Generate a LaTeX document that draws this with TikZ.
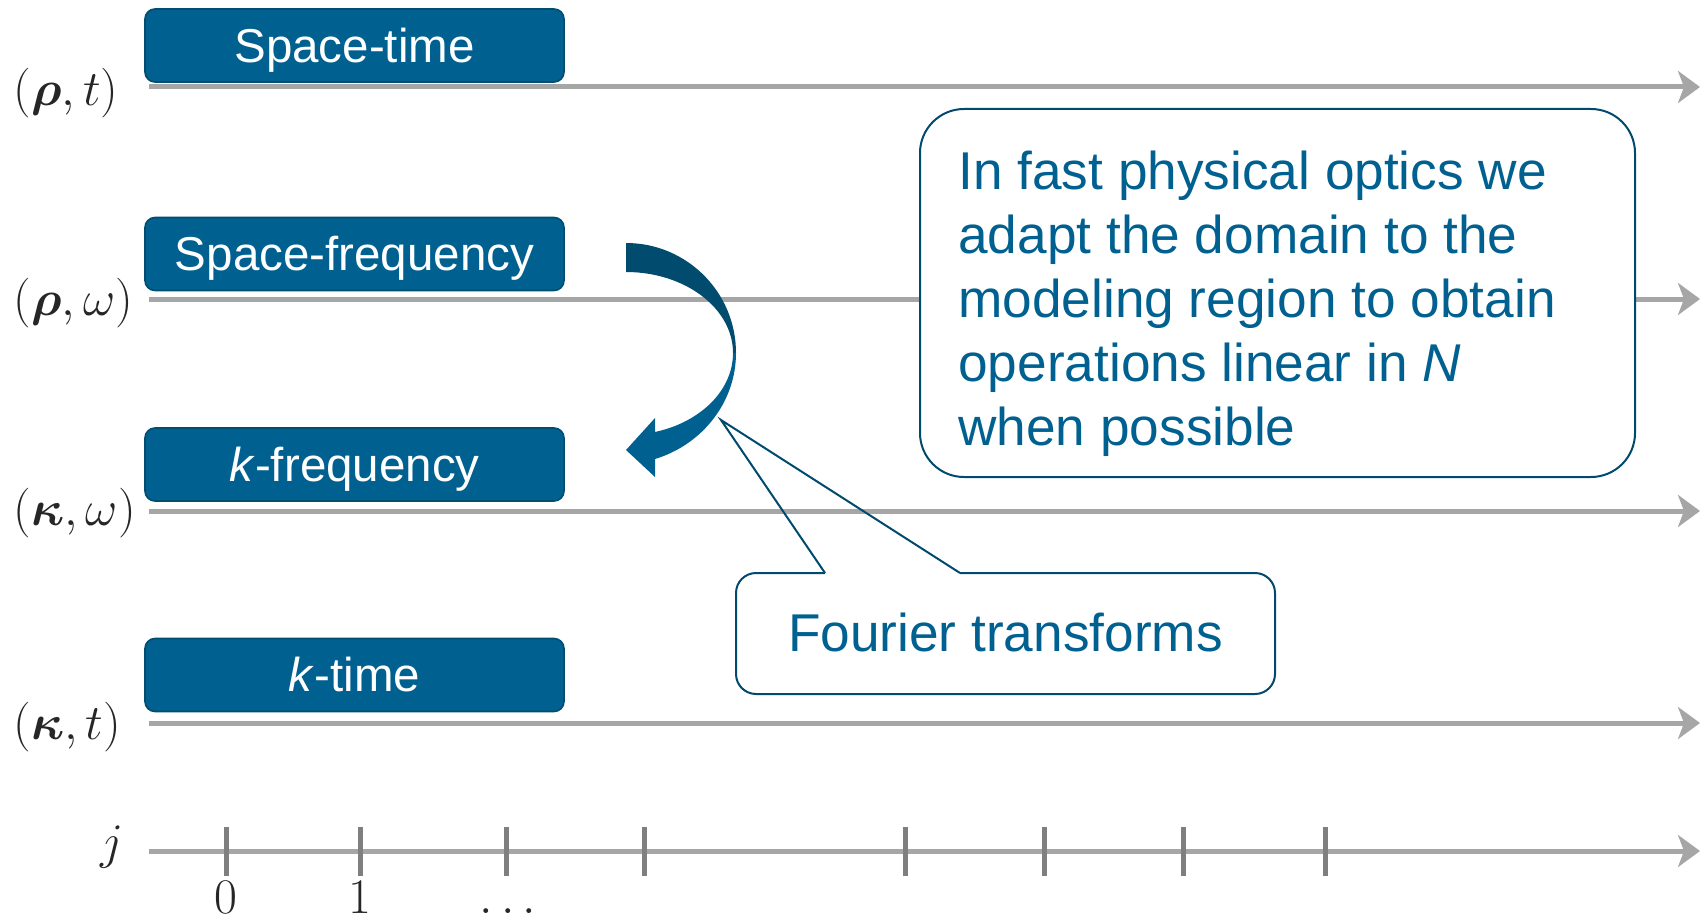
\documentclass[tikz,border=0pt]{standalone}
\usepackage{amsmath}
\usepackage{fontspec}
\setmainfont{Liberation Sans}
\usetikzlibrary{arrows.meta}
\definecolor{boxblue}{HTML}{006191}
\definecolor{boxedge}{HTML}{004D70}
\definecolor{calltext}{HTML}{006191}
\definecolor{calledge}{HTML}{004A6E}
\definecolor{arrowdark}{HTML}{004B6E}
\definecolor{axisgray}{HTML}{A6A6A6}
\definecolor{tickgray}{HTML}{7F7F7F}
\tikzset{
  axisline/.style={draw=axisgray, line width=2.5pt, -{Stealth[length=11pt,width=16pt,inset=3pt]}},
  domainbox/.style={fill=boxblue, draw=boxedge, line width=0.8pt, rounded corners=5pt,
    minimum width=209.5pt, minimum height=36.5pt, inner sep=0pt, text=white,
    text height=21.6pt, text depth=5pt,
    font=\fontsize{23.75}{28}\selectfont},
  mathlabel/.style={anchor=west, inner sep=0pt, text=black!85, font=\fontsize{25.5}{30}\selectfont},
  ticklabel/.style={inner sep=0pt, text=black!85, font=\fontsize{24}{28}\selectfont},
  tickmark/.style={draw=tickgray, line width=2.5pt},
  callout/.style={draw=calledge, line width=1pt},
  calloutfont/.style={text=calltext, font=\fontsize{26.6}{31.9}\selectfont}
}
\begin{document}
\begin{tikzpicture}[x=0.5pt,y=-0.5pt]
\useasboundingbox (0,0) rectangle (1707,920);

% axis line end points
\coordinate (l1s) at (149,87);  \coordinate (l1e) at (1700,87);
\coordinate (l2s) at (149,299); \coordinate (l2e) at (1700,299);
\coordinate (l3s) at (149,511); \coordinate (l3e) at (1700,511);
\coordinate (l4s) at (149,723); \coordinate (l4e) at (1700,723);
\coordinate (l5s) at (149,851); \coordinate (l5e) at (1700,851);
\draw[axisline] (l1s) -- (l1e);
\draw[axisline] (l2s) -- (l2e);
\draw[axisline] (l3s) -- (l3e);
\draw[axisline] (l4s) -- (l4e);
\draw[axisline] (l5s) -- (l5e);

% ticks
\foreach \x/\n in {226/t0,360/t1,506/t2,644/t3,905/t4,1044/t5,1183/t6,1325/t7}{
  \coordinate (\n a) at (\x,827);
  \coordinate (\n b) at (\x,876);
  \draw[tickmark] (\n a) -- (\n b);
}
\node[ticklabel, anchor=base] (lab0) at (226,913) {$0$};
\node[ticklabel, anchor=base] (lab1) at (360,913) {$1$};
\node[ticklabel, anchor=base] (labd) at (512,913) {$\dots$};

% left labels
\node[mathlabel] (rt) at (13,93) {$(\boldsymbol{\rho},t)$};
\node[mathlabel] (rw) at (13,303) {$(\boldsymbol{\rho},\omega)$};
\node[mathlabel] (kw) at (13,513) {$(\boldsymbol{\kappa},\omega)$};
\node[mathlabel] (kt) at (13,727) {$(\boldsymbol{\kappa},t)$};
\node[mathlabel, anchor=center] (jlab) at (112,847) {$j$};

% domain boxes
\node[domainbox] (st) at (354.5,45.5) {Space-time};
\node[domainbox] (sf) at (354.5,254) {Space-frequency};
\node[domainbox] (kf) at (354.5,464.5) {\textit{k}-frequency};
\node[domainbox] (ktm) at (354.5,675) {\textit{k}-time};

% big callout
\node[callout, fill=white, rounded corners=22pt, minimum width=357.5pt, minimum height=184pt, inner sep=0pt]
  (big) at (1277.5,293) {};
\node[calloutfont, anchor=north west, align=left, inner sep=0pt] (bigtext) at (958,151)
  {In fast physical optics we\\adapt the domain to the\\modeling region to obtain\\operations linear in \textit{N}\\when possible};

% curved arrow
\fill[arrowdark] (626,243) .. controls (686.8,243) and (736,292.2) .. (736,353)
  -- (733,353) .. controls (733,308.3) and (685.1,272) .. (626,272) -- cycle;
\fill[boxblue] (736,353) .. controls (736,401.7) and (702.8,444.4) .. (655,459)
  -- (655,477) -- (626,450) -- (655,418) -- (655,432)
  .. controls (701.2,422) and (733,389.8) .. (733,353) -- cycle;

% Fourier callout
\coordinate (pa) at (825,573);
\coordinate (apex) at (721,420);
\coordinate (pb) at (960,573);
\fill[white, rounded corners=10pt] (736,573) rectangle (1275,694);
\draw[callout, rounded corners=10pt] (pb) -- (1275,573) -- (1275,694) -- (736,694) -- (736,573) -- (pa);
\draw[callout] (pa) -- (apex) -- (pb);
\node[calloutfont, inner sep=0pt] (ft) at (1005.5,632.5) {Fourier transforms};
\end{tikzpicture}
\end{document}
